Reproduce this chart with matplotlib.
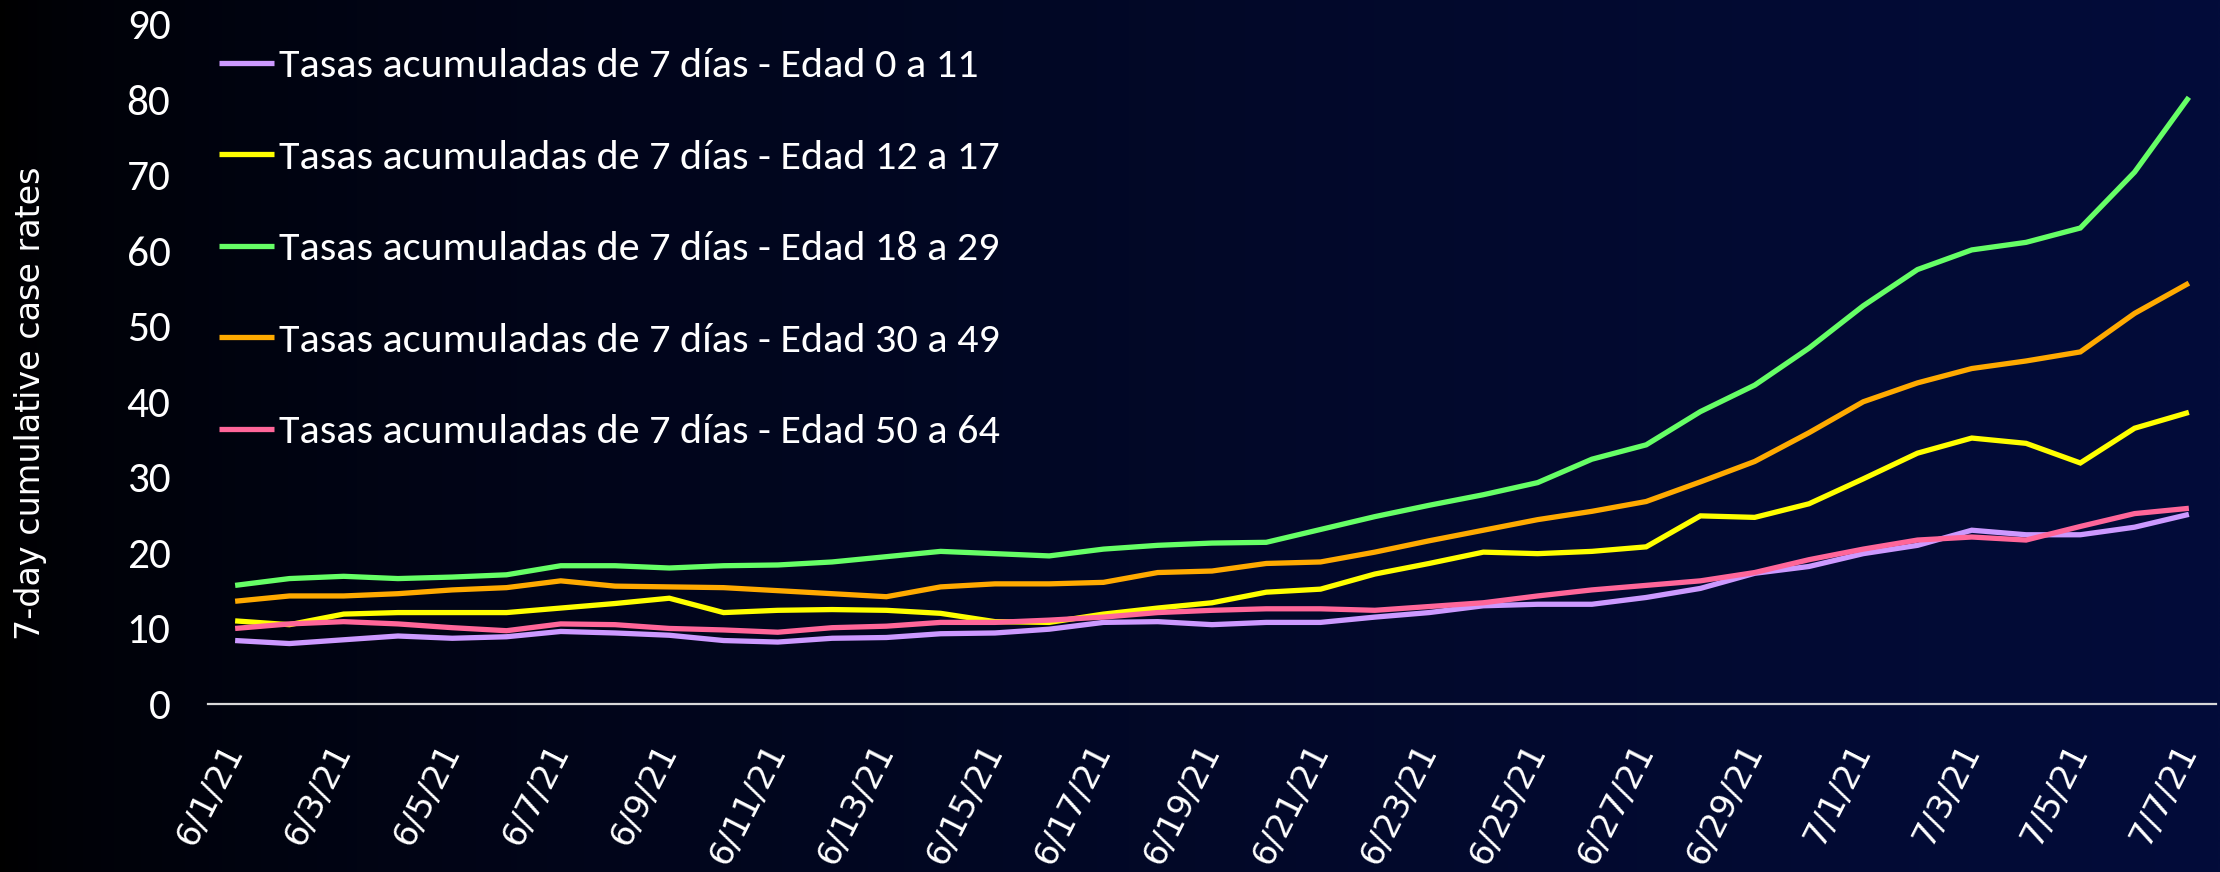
import numpy as np
import matplotlib
matplotlib.use("Agg")
import matplotlib.pyplot as plt
from matplotlib import font_manager as fm

dates = ["6/1/21", "6/2/21", "6/3/21", "6/4/21", "6/5/21", "6/6/21", "6/7/21", "6/8/21",
         "6/9/21", "6/10/21", "6/11/21", "6/12/21", "6/13/21", "6/14/21", "6/15/21",
         "6/16/21", "6/17/21", "6/18/21", "6/19/21", "6/20/21", "6/21/21", "6/22/21",
         "6/23/21", "6/24/21", "6/25/21", "6/26/21", "6/27/21", "6/28/21", "6/29/21",
         "6/30/21", "7/1/21", "7/2/21", "7/3/21", "7/4/21", "7/5/21", "7/6/21", "7/7/21"]

age_0_11 = [8.4, 8.0, 8.5, 9.0, 8.7, 8.9, 9.6, 9.4, 9.1, 8.4, 8.2, 8.7, 8.8, 9.3, 9.4, 9.9,
            10.8, 10.9, 10.5, 10.8, 10.8, 11.5, 12.1, 13.0, 13.2, 13.2, 14.1, 15.3, 17.3,
            18.2, 19.9, 21.0, 23.0, 22.4, 22.4, 23.4, 25.1]
age_12_17 = [11.0, 10.5, 11.9, 12.1, 12.1, 12.1, 12.7, 13.3, 14.0, 12.1, 12.4, 12.5, 12.4,
             12.0, 10.9, 10.8, 11.9, 12.7, 13.4, 14.8, 15.2, 17.2, 18.6, 20.1, 19.9, 20.2,
             20.8, 24.9, 24.7, 26.5, 29.8, 33.2, 35.2, 34.5, 31.9, 36.5, 38.6]
age_18_29 = [15.7, 16.6, 16.9, 16.6, 16.8, 17.1, 18.3, 18.3, 18.0, 18.3, 18.4, 18.8, 19.5,
             20.2, 19.9, 19.6, 20.5, 21.0, 21.3, 21.4, 23.1, 24.8, 26.3, 27.7, 29.3, 32.4,
             34.3, 38.7, 42.2, 47.1, 52.7, 57.5, 60.1, 61.1, 63.0, 70.4, 80.3]
age_30_49 = [13.6, 14.3, 14.3, 14.6, 15.1, 15.4, 16.3, 15.6, 15.5, 15.4, 15.0, 14.6, 14.2,
             15.5, 15.9, 15.9, 16.1, 17.4, 17.6, 18.6, 18.8, 20.1, 21.6, 23.0, 24.4, 25.5,
             26.8, 29.4, 32.1, 35.9, 40.0, 42.5, 44.4, 45.4, 46.6, 51.7, 55.7]
age_50_64 = [10.0, 10.6, 10.9, 10.6, 10.1, 9.7, 10.6, 10.5, 10.0, 9.8, 9.5, 10.1, 10.3, 10.8,
             10.8, 11.1, 11.5, 12.1, 12.4, 12.6, 12.6, 12.4, 12.9, 13.4, 14.3, 15.1, 15.7,
             16.3, 17.4, 19.1, 20.5, 21.7, 22.1, 21.7, 23.5, 25.2, 25.9]

labels = ["Tasas acumuladas de 7 días - Edad 0 a 11",
          "Tasas acumuladas de 7 días - Edad 12 a 17",
          "Tasas acumuladas de 7 días - Edad 18 a 29",
          "Tasas acumuladas de 7 días - Edad 30 a 49",
          "Tasas acumuladas de 7 días - Edad 50 a 64"]
series = [age_0_11, age_12_17, age_18_29, age_30_49, age_50_64]
colors = ["#CC99FF", "#FFFF00", "#66FF66", "#FFAA00", "#FF6699"]
y_ticks = [0, 10, 20, 30, 40, 50, 60, 70, 80, 90]
y_label = "7-day cumulative case rates"

W, H = 2220, 872
fig = plt.figure(figsize=(W / 100, H / 100), dpi=100)

available = {f.name for f in fm.fontManager.ttflist}
cal = "Carlito" if "Carlito" in available else "Lato"

renderer = fig.canvas.get_renderer()


def fit(s, family, target_px, base=20):
    t = fig.text(0, 0, s, fontfamily=family, fontsize=base)
    w = t.get_window_extent(renderer=renderer).width
    t.remove()
    return base * target_px / w


leg_size = fit(labels[0], cal, 700)
leg_px = leg_size * 100 / 72
tick_size = fit("90", cal, 44)
ylab_size = fit(y_label, "DejaVu Sans", 473)

# background gradient
bg = fig.add_axes([0, 0, 1, 1], zorder=-10)
bg.axis("off")
tt = np.linspace(0, 1, 600) ** 0.6
grad = np.outer(np.ones(2), tt)[..., None] * (np.array([3, 12, 58]) / 255.0)
bg.imshow(grad, aspect="auto", extent=[0, 1, 0, 1], interpolation="bilinear")

ax = fig.add_axes([208 / W, 1 - 704 / H, (2216 - 208) / W, (704 - 24) / H])
ax.set_facecolor("none")
x = np.arange(len(dates))
for vals, c, lab in zip(series, colors, labels):
    ax.plot(x, vals, color=c, lw=3.8, label=lab, solid_capstyle="butt",
            solid_joinstyle="miter")

ax.set_xlim(-0.5, len(dates) - 0.5)
ax.set_ylim(0, 90)
ax.set_yticks(y_ticks)
ax.set_xticks(x[::2])
ax.set_xticklabels(dates[::2], rotation=63, ha="right", va="center",
                   rotation_mode="anchor", fontsize=24.5, color="white",
                   fontfamily="DejaVu Sans")
ax.tick_params(axis="x", length=0, pad=30)
ax.tick_params(axis="y", length=0, pad=27, labelsize=tick_size, labelcolor="white")
for lbl in ax.get_yticklabels():
    lbl.set_fontfamily(cal)
for s in ["top", "right", "left"]:
    ax.spines[s].set_visible(False)
ax.spines["bottom"].set_color("#d9d9d9")
ax.spines["bottom"].set_linewidth(1.6)

leg = ax.legend(loc="upper left", bbox_to_anchor=(219 / W, 1 - 48 / H),
                bbox_transform=fig.transFigure, frameon=False,
                prop=fm.FontProperties(family=cal, size=leg_size),
                handlelength=55 / leg_px, handletextpad=5 / leg_px,
                labelspacing=55 / leg_px, borderpad=0, borderaxespad=0)
for t in leg.get_texts():
    t.set_color("white")

fig.text(31 / W, 1 - 403 / H, y_label, rotation=90, ha="center", va="center",
         color="white", fontsize=ylab_size, fontfamily="DejaVu Sans")

fig.savefig("out.png", dpi=100)
